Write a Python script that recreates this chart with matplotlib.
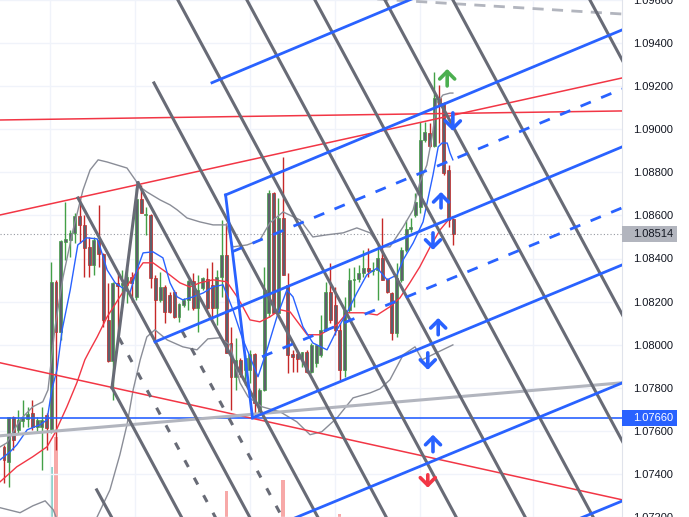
import matplotlib
matplotlib.use("Agg")
import matplotlib.pyplot as plt
import matplotlib.transforms as mtransforms
from matplotlib.patches import Rectangle

# candles
opens = [
    1.07526, 1.07456, 1.07665, 1.07605, 1.07647, 1.07656, 1.07684, 1.07619, 1.07619, 1.07674,
    1.07609, 1.08292, 1.08060, 1.08477, 1.08486, 1.08519, 1.08598, 1.08556, 1.08454, 1.08370,
    1.08486, 1.08421, 1.08115, 1.07925, 1.08287, 1.08278, 1.08278, 1.08315, 1.08222, 1.08677,
    1.08602, 1.08602, 1.08310, 1.08208, 1.08268, 1.08231, 1.08245, 1.08129, 1.08185, 1.08208,
    1.08296, 1.08171, 1.08264, 1.08305, 1.08278, 1.08171, 1.08315, 1.08417, 1.08008, 1.07851,
    1.07930, 1.07883, 1.07883, 1.07957, 1.07684, 1.07790, 1.08148, 1.08704, 1.08148, 1.08588,
    1.08278, 1.07957, 1.07957, 1.07930, 1.07967, 1.07874, 1.07916, 1.07953, 1.08069, 1.08245,
    1.08185, 1.08069, 1.07883, 1.08162, 1.08301, 1.08305, 1.08333, 1.08356, 1.08343, 1.08347,
    1.08403, 1.08305, 1.08240, 1.08055, 1.08301, 1.08440, 1.08537, 1.08602, 1.08640, 1.08950,
    1.08983, 1.08923, 1.09145, 1.09122, 1.08811, 1.08584]
highs = [
    1.07535, 1.07665, 1.07670, 1.07698, 1.07744, 1.07712, 1.07744, 1.07665, 1.07712, 1.07684,
    1.08384, 1.08300, 1.08486, 1.08663, 1.08533, 1.08612, 1.08681, 1.08602, 1.08500, 1.08500,
    1.08649, 1.08426, 1.08287, 1.08292, 1.08333, 1.08347, 1.08356, 1.08338, 1.08728, 1.08742,
    1.08640, 1.08607, 1.08324, 1.08338, 1.08278, 1.08245, 1.08254, 1.08194, 1.08217, 1.08301,
    1.08333, 1.08324, 1.08315, 1.08356, 1.08384, 1.08347, 1.08579, 1.08565, 1.08083, 1.08032,
    1.07939, 1.07953, 1.07976, 1.07962, 1.07800, 1.08361, 1.08718, 1.08709, 1.08681, 1.08872,
    1.08333, 1.07976, 1.07976, 1.07967, 1.07976, 1.08008, 1.07999, 1.08138, 1.08292, 1.08380,
    1.08268, 1.08101, 1.08222, 1.08356, 1.08361, 1.08370, 1.08440, 1.08449, 1.08384, 1.08463,
    1.08588, 1.08310, 1.08245, 1.08380, 1.08454, 1.08579, 1.08588, 1.08704, 1.09034, 1.09034,
    1.09029, 1.09266, 1.09206, 1.09127, 1.08834, 1.08588]
lows = [
    1.07359, 1.07340, 1.07512, 1.07591, 1.07619, 1.07619, 1.07605, 1.07591, 1.07419, 1.07512,
    1.07591, 1.07512, 1.08022, 1.08394, 1.08408, 1.08472, 1.08472, 1.08315, 1.08315, 1.08324,
    1.08361, 1.08083, 1.07920, 1.07744, 1.08008, 1.08176, 1.08194, 1.08199, 1.08208, 1.08612,
    1.08510, 1.08264, 1.08022, 1.08200, 1.08101, 1.08148, 1.08124, 1.08106, 1.08176, 1.08162,
    1.08162, 1.08060, 1.08254, 1.08162, 1.08115, 1.08092, 1.08222, 1.07962, 1.07698, 1.07790,
    1.07851, 1.07814, 1.07823, 1.07660, 1.07679, 1.07785, 1.08129, 1.08148, 1.08140, 1.08324,
    1.07869, 1.07874, 1.07874, 1.07897, 1.07869, 1.07869, 1.07897, 1.07944, 1.08065, 1.08101,
    1.08046, 1.07837, 1.07851, 1.08152, 1.08176, 1.08292, 1.08315, 1.08315, 1.08324, 1.08208,
    1.08301, 1.08240, 1.08022, 1.08036, 1.08292, 1.08431, 1.08524, 1.08593, 1.08612, 1.08941,
    1.08918, 1.08918, 1.08936, 1.08788, 1.08547, 1.08463]
closes = [
    1.07466, 1.07665, 1.07558, 1.07651, 1.07660, 1.07679, 1.07619, 1.07651, 1.07651, 1.07614,
    1.08292, 1.08060, 1.08482, 1.08491, 1.08519, 1.08598, 1.08556, 1.08449, 1.08370, 1.08486,
    1.08421, 1.08115, 1.07925, 1.08287, 1.08273, 1.08287, 1.08315, 1.08287, 1.08677, 1.08612,
    1.08607, 1.08310, 1.08208, 1.08268, 1.08152, 1.08152, 1.08129, 1.08189, 1.08208, 1.08296,
    1.08171, 1.08254, 1.08310, 1.08171, 1.08171, 1.08315, 1.08417, 1.07962, 1.07851, 1.07930,
    1.07865, 1.07939, 1.07957, 1.07730, 1.07790, 1.08254, 1.08704, 1.08148, 1.08588, 1.08324,
    1.07953, 1.07944, 1.07934, 1.07967, 1.07874, 1.07999, 1.07999, 1.08069, 1.08245, 1.08115,
    1.08069, 1.07883, 1.08162, 1.08301, 1.08305, 1.08333, 1.08356, 1.08343, 1.08347, 1.08403,
    1.08301, 1.08245, 1.08055, 1.08310, 1.08440, 1.08537, 1.08547, 1.08663, 1.08950, 1.08988,
    1.08923, 1.09145, 1.09113, 1.08797, 1.08579, 1.08514]

# indicator lines, sampled (bar index, price)
ma_fast_x = [-0.8, 1.3, 2.7, 4.9, 7.6, 9.1, 10.1, 11.2, 12.3, 14.0, 15.6, 17.5, 19.7, 20.3, 21.8,
             23.5, 26.6, 28.1, 29.4, 31.5, 33.6, 35.1, 36.6, 37.8, 40.0, 42.1, 44.2, 46.3, 48.4,
             50.3, 52.0, 53.7, 55.6, 57.7, 59.8, 61.1, 63.2, 65.3, 68.3, 70.4, 72.5, 74.6, 76.7,
             78.9, 81.0, 83.1, 84.4, 86.5, 88.6, 90.7, 91.8, 92.6, 93.7, 94.3, 94.9]
ma_fast_y = [1.07466, 1.07503, 1.07535, 1.07605, 1.07628, 1.07651, 1.07790, 1.07883, 1.08069,
             1.08254, 1.08463, 1.08496, 1.08491, 1.08454, 1.08347, 1.08287, 1.08240, 1.08347,
             1.08426, 1.08431, 1.08403, 1.08287, 1.08222, 1.08208, 1.08222, 1.08240, 1.08268,
             1.08278, 1.08162, 1.08036, 1.07944, 1.07851, 1.07976, 1.08129, 1.08254, 1.08222,
             1.08083, 1.08008, 1.07976, 1.08069, 1.08148, 1.08240, 1.08324, 1.08356, 1.08301,
             1.08324, 1.08394, 1.08472, 1.08570, 1.08788, 1.08918, 1.08936, 1.08936, 1.08890,
             1.08858]
ma_slow_x = [-0.8, 2.7, 6.1, 9.1, 10.8, 13.3, 15.4, 17.1, 18.2, 19.7, 21.8, 24.5, 27.3, 29.4,
             31.5, 34.5, 37.2, 39.3, 41.4, 44.2, 47.1, 49.3, 50.5, 52.0, 54.1, 56.2, 58.4, 60.5,
             64.1, 66.8, 70.4, 72.5, 75.9, 78.9, 81.6, 83.7, 85.8, 87.9, 90.1, 92.2, 94.3, 94.9]
ma_slow_y = [1.07364, 1.07433, 1.07480, 1.07526, 1.07591, 1.07712, 1.07823, 1.07930, 1.07976,
             1.08036, 1.08129, 1.08222, 1.08315, 1.08380, 1.08380, 1.08333, 1.08287, 1.08268,
             1.08287, 1.08301, 1.08292, 1.08222, 1.08176, 1.08115, 1.08106, 1.08129, 1.08162,
             1.08152, 1.08046, 1.08046, 1.08092, 1.08148, 1.08148, 1.08138, 1.08176, 1.08217,
             1.08287, 1.08361, 1.08454, 1.08533, 1.08588, 1.08593]
bb_up_x = [-0.8, 0.6, 3.4, 6.1, 8.2, 9.3, 10.8, 12.5, 14.6, 16.7, 18.2, 19.9, 21.8, 23.9, 26.0,
           28.8, 30.2, 33.0, 35.1, 36.6, 38.7, 41.4, 44.2, 47.1, 48.4, 51.4, 54.1, 56.2, 59.0,
           62.6, 65.3, 68.3, 71.7, 74.6, 77.4, 79.5, 81.6, 84.4, 86.5, 87.9, 89.4, 90.5, 91.5,
           92.8, 94.3, 94.9]
bb_up_y = [1.07526, 1.07544, 1.07651, 1.07712, 1.07735, 1.07790, 1.08083, 1.08315, 1.08533,
           1.08718, 1.08811, 1.08858, 1.08848, 1.08834, 1.08820, 1.08732, 1.08709, 1.08672,
           1.08649, 1.08626, 1.08588, 1.08570, 1.08556, 1.08556, 1.08454, 1.08463, 1.08486,
           1.08565, 1.08616, 1.08579, 1.08500, 1.08510, 1.08519, 1.08542, 1.08519, 1.08454,
           1.08454, 1.08547, 1.08626, 1.08751, 1.08834, 1.08964, 1.09122, 1.09159, 1.09168,
           1.09168]
bb_lo_x = [-0.8, 3.4, 6.1, 8.7, 10.4, 11.4, 19.2, 19.7, 22.4, 24.5, 26.0, 27.3, 28.8, 30.2,
           31.9, 34.5, 37.8, 40.8, 43.1, 45.7, 47.8, 49.9, 51.6, 54.5, 58.4, 61.9, 64.7, 67.2,
           70.4, 73.8, 77.4, 79.5, 81.6, 84.4, 86.9, 88.4, 94.9]
bb_lo_y = [1.07243, 1.07220, 1.07252, 1.07275, 1.07234, 1.07178, 1.07178, 1.07201, 1.07326,
           1.07489, 1.07628, 1.07790, 1.07930, 1.08036, 1.08069, 1.08022, 1.07990, 1.07976,
           1.08027, 1.08032, 1.07999, 1.07823, 1.07758, 1.07712, 1.07688, 1.07642, 1.07582,
           1.07596, 1.07660, 1.07753, 1.07776, 1.07795, 1.07837, 1.07953, 1.07990, 1.07930,
           1.07999]

# volume bars that rise into view
vol_idx = [10, 11, 47, 59, 71]
vol_val = [9.7, 15.5, 5.0, 7.2, 0.5]
vol_up = [True, False, False, False, False]

# drawings, as (bar index, price) anchor pairs
red_lines = [((-0.85, 1.08602), (130.66, 1.09238)),
             ((-0.85, 1.09043), (130.66, 1.09085)),
             ((-0.85, 1.07916), (130.66, 1.07280))]
light_line = ((-0.85, 1.07577), (130.66, 1.07823))
light_dashed = ((69.0, 1.09618), (130.66, 1.09535))
blue_solid = [((43.97, 1.09216), (90.06, 1.09640)),
              ((46.85, 1.08695), (130.66, 1.09461)),
              ((46.85, 1.08695), (52.54, 1.07660)),
              ((31.92, 1.08013), (130.66, 1.08918)),
              ((52.54, 1.07660), (130.66, 1.08370)),
              ((60.46, 1.07186), (130.66, 1.07822)),
              ((117.5, 1.07155), (130.66, 1.07274))]
blue_dashed = [((48.2, 1.08431), (130.66, 1.09187)),
               ((54.55, 1.07944), (130.66, 1.08635))]
gray_solid = [((35.64, 1.09646), (97.04, 1.07141)),
              ((50.23, 1.09646), (111.63, 1.07141)),
              ((64.61, 1.09646), (126.0, 1.07141)),
              ((79.41, 1.09646), (140.8, 1.07141)),
              ((93.78, 1.09646), (155.2, 1.07141)),
              ((122.75, 1.09646), (184.1, 1.07141)),
              ((31.71, 1.09215), (82.24, 1.07141)),
              ((15.64, 1.08681), (53.38, 1.07141)),
              ((28.33, 1.08751), (67.78, 1.07141)),
              ((22.83, 1.07800), (38.96, 1.07141)),
              ((22.83, 1.07800), (28.33, 1.08751)),
              ((19.6, 1.07326), (24.2, 1.07141))]
gray_dashed = [((24.31, 1.08032), (46.1, 1.07141)),
               ((37.63, 1.08064), (60.25, 1.07141))]

# arrows: (bar index, tail price, tip price, colour)
arrows = [(93.7, 1.09201, 1.09280, "#4caf50"),
          (94.9, 1.09076, 1.08992, "#2962ff"),
          (92.4, 1.08635, 1.08709, "#2962ff"),
          (90.7, 1.08519, 1.08440, "#2962ff"),
          (91.8, 1.08046, 1.08124, "#2962ff"),
          (89.6, 1.07962, 1.07883, "#2962ff"),
          (90.7, 1.07503, 1.07582, "#2962ff"),
          (89.6, 1.07396, 1.07336, "#f23645")]

price_ticks = [1.072, 1.074, 1.076, 1.078, 1.080, 1.082, 1.084, 1.086, 1.088, 1.090,
               1.092, 1.094, 1.096]
vgrid = [9.7, 27.7, 52.0, 70.0, 88.0, 111.8]
last_price = 1.08514
level_price = 1.07660

fig = plt.figure(figsize=(6.89, 5.17), dpi=100)
vax = fig.add_axes([0, 0, 622 / 689, 1])
ax = fig.add_axes([0, 0, 622 / 689, 1])
ax.patch.set_visible(False)

for yv in price_ticks:
    ax.axhline(yv, color="#f0f3fa", lw=1, zorder=0)
for xv in vgrid:
    ax.axvline(xv, color="#f0f3fa", lw=1, zorder=0)

# volume
vax.bar(vol_idx, vol_val, width=0.7,
        color=["#8fd3cb" if u else "#f7a9a8" for u in vol_up])
vax.set_xlim(-0.846, 130.66)
vax.set_ylim(0, 100)
vax.set_axis_off()

# candles
for i in range(len(opens)):
    up = closes[i] >= opens[i]
    wick = "#43a047" if up else "#c62828"
    ax.vlines(i, lows[i], highs[i], color=wick, lw=1, zorder=2)
    lo = min(opens[i], closes[i])
    h = max(abs(closes[i] - opens[i]), 0.00004)
    ax.bar(i, h, bottom=lo, width=0.62, color="#5d606b", edgecolor=wick, lw=0.5, zorder=3)

# indicators
ax.plot(bb_up_x, bb_up_y, color="#8a8d97", lw=1, zorder=4)
ax.plot(bb_lo_x, bb_lo_y, color="#8a8d97", lw=1, zorder=4)
ax.plot(ma_slow_x, ma_slow_y, color="#f23645", lw=1, zorder=4)
ax.plot(ma_fast_x, ma_fast_y, color="#2962ff", lw=1, zorder=4)

# drawings
ax.axhline(last_price, color="#9598a1", lw=0.8, ls=(0, (1, 2)), zorder=1)
ax.axhline(level_price, color="#2962ff", lw=1.2, zorder=5)
for (a, b) in red_lines:
    ax.plot([a[0], b[0]], [a[1], b[1]], color="#f23645", lw=1.1, zorder=5)
ax.plot([light_line[0][0], light_line[1][0]], [light_line[0][1], light_line[1][1]],
        color="#b2b5be", lw=2.2, zorder=5)
ax.plot([light_dashed[0][0], light_dashed[1][0]], [light_dashed[0][1], light_dashed[1][1]],
        color="#b2b5be", lw=2, ls=(0, (4, 3)), zorder=5)
for (a, b) in gray_solid:
    ax.plot([a[0], b[0]], [a[1], b[1]], color="#686b76", lw=2.2, zorder=5)
for (a, b) in gray_dashed:
    ax.plot([a[0], b[0]], [a[1], b[1]], color="#686b76", lw=2.2, ls=(0, (2.5, 4)), zorder=5)
for (a, b) in blue_solid:
    ax.plot([a[0], b[0]], [a[1], b[1]], color="#2962ff", lw=2, zorder=6)
for (a, b) in blue_dashed:
    ax.plot([a[0], b[0]], [a[1], b[1]], color="#2962ff", lw=2, ls=(0, (4, 4)), zorder=6)

for (xi, tail, tip, c) in arrows:
    ax.annotate("", xy=(xi, tip), xytext=(xi, tail),
                arrowprops=dict(arrowstyle="->,head_width=0.45,head_length=0.45",
                                color=c, lw=2.6, mutation_scale=12,
                                shrinkA=0, shrinkB=0), zorder=7)

ax.set_xlim(-0.846, 130.66)
ax.set_ylim(1.0720, 1.0960)
ax.set_xticks([])
ax.yaxis.tick_right()
ax.set_yticks(price_ticks)
ax.set_yticklabels(["%.5f" % t for t in price_ticks])
ax.tick_params(axis="y", length=0, pad=8, labelsize=8, labelcolor="#131722")
for lab in ax.get_yticklabels():
    lab.set_fontfamily("Liberation Sans")
for s in ["top", "left", "bottom"]:
    ax.spines[s].set_visible(False)
ax.spines["right"].set_color("#e0e3eb")

# price labels on the scale
trans = mtransforms.blended_transform_factory(ax.transAxes, ax.transData)
box_w = 55 / 622
box_h = 16 * 0.0000464
for price, fc, tc in [(last_price, "#b2b5be", "#131722"), (level_price, "#2962ff", "white")]:
    ax.add_patch(Rectangle((1.0, price - box_h / 2), box_w, box_h, transform=trans,
                           facecolor=fc, edgecolor="none", clip_on=False, zorder=10))
    ax.text(1.0 + 11 / 622, price, "%.5f" % price, transform=trans, ha="left", va="center",
            fontsize=8, color=tc, family="Liberation Sans", clip_on=False, zorder=11)

fig.savefig("out.png", dpi=100)
